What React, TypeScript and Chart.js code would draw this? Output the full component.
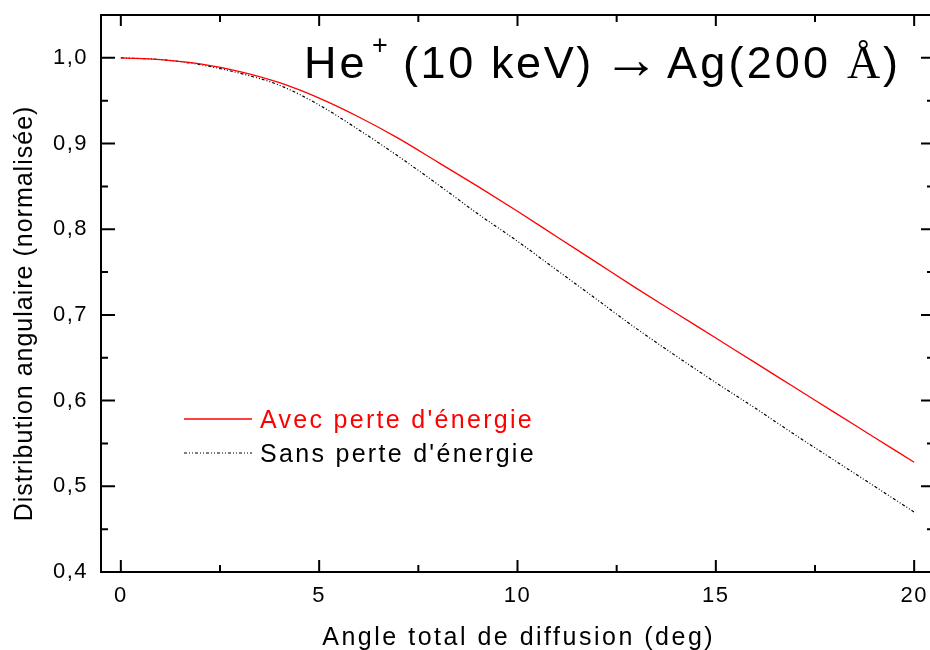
import React, { useEffect, useRef } from "react";
import { Chart, registerables } from "chart.js";

Chart.register(...registerables);

// ---- data ----
const ANGLES = [0, 1, 2, 3, 4, 5, 6, 7, 8, 9, 10, 11, 12, 13, 14, 15, 16, 17, 18, 19, 20];
const AVEC = [1.0, 0.998, 0.993, 0.984, 0.971, 0.953, 0.931, 0.906, 0.878, 0.85, 0.821, 0.791, 0.761, 0.731, 0.702, 0.673, 0.644, 0.615, 0.586, 0.557, 0.528];
const SANS = [1.0, 0.998, 0.992, 0.982, 0.968, 0.945, 0.916, 0.885, 0.852, 0.818, 0.786, 0.752, 0.718, 0.684, 0.652, 0.621, 0.591, 0.56, 0.53, 0.5, 0.47];
const X_TICKS = [0, 5, 10, 15, 20];
const Y_TICKS = [0.4, 0.5, 0.6, 0.7, 0.8, 0.9, 1.0];
const X_RANGE = [-0.5, 20.5];
const Y_RANGE = [0.4, 1.05];
const SERIES_LABELS = ["Avec perte d'énergie", "Sans perte d'énergie"];
const X_TITLE = "Angle total de diffusion (deg)";
const Y_TITLE = "Distribution angulaire (normalisée)";

const SANS_FONT = "'Liberation Sans', Arial, sans-serif";
const SERIF_FONT = "'Liberation Serif', 'Times New Roman', serif";

function setSpacing(ctx: any, s: number) {
  try {
    ctx.letterSpacing = s + "px";
  } catch (e) {}
}

const textPlugin = {
  id: "textPlugin",
  beforeDraw(chart: any) {
    setSpacing(chart.ctx, 1.5);
  },
  afterDatasetsDraw(chart: any) {
    const { ctx, chartArea: ca, scales } = chart;
    const xs = scales.x;
    const ys = scales.y;
    ctx.save();
    setSpacing(ctx, 0);
    ctx.strokeStyle = "#000";
    ctx.lineWidth = 2;
    ctx.lineCap = "butt";
    ctx.strokeRect(ca.left, ca.top, ca.right - ca.left, ca.bottom - ca.top);
    ctx.beginPath();
    const xv = xs.ticks.map((t: any) => t.value);
    for (let i = 0; i < xv.length; i++) {
      const p = xs.getPixelForValue(xv[i]);
      ctx.moveTo(p, ca.bottom);
      ctx.lineTo(p, ca.bottom - 12);
      ctx.moveTo(p, ca.top);
      ctx.lineTo(p, ca.top + 11);
      if (i < xv.length - 1) {
        const m = xs.getPixelForValue((xv[i] + xv[i + 1]) / 2);
        ctx.moveTo(m, ca.bottom);
        ctx.lineTo(m, ca.bottom - 7);
        ctx.moveTo(m, ca.top);
        ctx.lineTo(m, ca.top + 7);
      }
    }
    const yv = ys.ticks.map((t: any) => t.value);
    for (let i = 0; i < yv.length; i++) {
      const p = ys.getPixelForValue(yv[i]);
      ctx.moveTo(ca.left, p);
      ctx.lineTo(ca.left + 14, p);
      ctx.moveTo(ca.right, p);
      ctx.lineTo(ca.right - 13, p);
      if (i < yv.length - 1) {
        const m = ys.getPixelForValue((yv[i] + yv[i + 1]) / 2);
        ctx.moveTo(ca.left, m);
        ctx.lineTo(ca.left + 7, m);
        ctx.moveTo(ca.right, m);
        ctx.lineTo(ca.right - 7, m);
      }
    }
    ctx.stroke();
    ctx.restore();
  },
  afterDraw(chart: any) {
    const { ctx, chartArea: ca } = chart;
    ctx.save();
    ctx.fillStyle = "#000";
    ctx.textBaseline = "alphabetic";

    // x axis title
    ctx.font = `25px ${SANS_FONT}`;
    setSpacing(ctx, 2.5);
    ctx.textAlign = "center";
    ctx.fillText(X_TITLE, (ca.left + ca.right) / 2 + 1.2, 645);

    // y axis title
    ctx.save();
    setSpacing(ctx, 1);
    ctx.translate(31.5, 314);
    ctx.rotate(-Math.PI / 2);
    ctx.textAlign = "center";
    ctx.fillText(Y_TITLE, 0.5, 0);
    ctx.restore();

    // legend
    const ds = chart.data.datasets;
    const legendY = [419, 453];
    ctx.textAlign = "left";
    setSpacing(ctx, 2.3);
    ds.forEach((d: any, i: number) => {
      ctx.save();
      ctx.strokeStyle = d.borderColor;
      ctx.lineWidth = d.borderWidth;
      ctx.setLineDash(d.borderDash || []);
      ctx.beginPath();
      ctx.moveTo(184, legendY[i]);
      ctx.lineTo(252, legendY[i]);
      ctx.stroke();
      ctx.restore();
      ctx.fillStyle = d.borderColor;
      ctx.font = `25px ${SANS_FONT}`;
      ctx.fillText(d.label, 260, legendY[i] + 9);
    });

    // chart title
    ctx.fillStyle = "#000";
    const base = 78;
    const part = (txt: string, x: number, font: string, dy = 0, sp = 3.0) => {
      ctx.font = font;
      setSpacing(ctx, sp);
      ctx.fillText(txt, x, base + dy);
    };
    part("He", 304, `45px ${SANS_FONT}`, 0, 3.0);
    part("+", 372, `27px ${SANS_FONT}`, -24, 0);
    part("(10 keV)", 403, `45px ${SANS_FONT}`, 0, 2.6);
    part("→", 603, `56px ${SANS_FONT}`, 0, 0);
    part("Ag(200", 667, `45px ${SANS_FONT}`, 0, 3.2);
    part("Å", 847, `46px ${SERIF_FONT}`, 0, 0);
    part(")", 883, `45px ${SANS_FONT}`, 0, 0);
    ctx.restore();
    setSpacing(ctx, 0);
  },
};

export default function App() {
  const ref = useRef<HTMLCanvasElement>(null);
  useEffect(() => {
    if (!ref.current) return;
    const chart = new Chart(ref.current, {
      type: "line",
      data: {
        datasets: [
          {
            label: SERIES_LABELS[0],
            data: ANGLES.map((a, i) => ({ x: a, y: AVEC[i] })),
            borderColor: "#ff0000",
            borderWidth: 1.3,
            pointRadius: 0,
            cubicInterpolationMode: "monotone",
            fill: false,
          },
          {
            label: SERIES_LABELS[1],
            data: ANGLES.map((a, i) => ({ x: a, y: SANS[i] })),
            borderColor: "#000000",
            borderWidth: 1.2,
            borderDash: [3, 2, 1, 2, 1, 2],
            pointRadius: 0,
            cubicInterpolationMode: "monotone",
            fill: false,
          },
        ],
      } as any,
      options: {
        animation: false,
        responsive: false,
        devicePixelRatio: 1,
        layout: { padding: { left: 0, top: 15, right: 2, bottom: 0 } },
        plugins: { legend: { display: false }, title: { display: false }, tooltip: { enabled: false } },
        scales: {
          x: {
            type: "linear",
            min: X_RANGE[0],
            max: X_RANGE[1],
            grid: { display: false, drawTicks: false },
            border: { display: false },
            afterBuildTicks: (s: any) => {
              s.ticks = X_TICKS.map((v) => ({ value: v }));
            },
            afterFit: (s: any) => {
              s.height = 78;
              s.paddingLeft = 0;
              s.paddingRight = 0;
              s.paddingTop = 0;
              s.paddingBottom = 0;
            },
            ticks: {
              autoSkip: false,
              maxRotation: 0,
              padding: 11,
              color: "#000",
              font: { family: SANS_FONT, size: 22 },
              callback: (v: any) => String(v),
            },
          },
          y: {
            type: "linear",
            min: Y_RANGE[0],
            max: Y_RANGE[1],
            grid: { display: false, drawTicks: false },
            border: { display: false },
            afterBuildTicks: (s: any) => {
              s.ticks = Y_TICKS.map((v) => ({ value: v }));
            },
            afterFit: (s: any) => {
              s.width = 101;
              s.paddingLeft = 0;
              s.paddingRight = 0;
              s.paddingTop = 0;
              s.paddingBottom = 0;
            },
            ticks: {
              autoSkip: false,
              padding: 13,
              color: "#000",
              font: { family: SANS_FONT, size: 22 },
              callback: (v: any) => Number(v).toFixed(1).replace(".", ","),
            },
          },
        },
      } as any,
      plugins: [textPlugin],
    });
    return () => chart.destroy();
  }, []);
  return (
    <div style={{ position: "absolute", left: 0, top: 0, width: 930, height: 650, background: "#fff", overflow: "hidden" }}>
      <canvas ref={ref} width={936} height={650} style={{ display: "block", width: 936, height: 650 }} />
    </div>
  );
}
